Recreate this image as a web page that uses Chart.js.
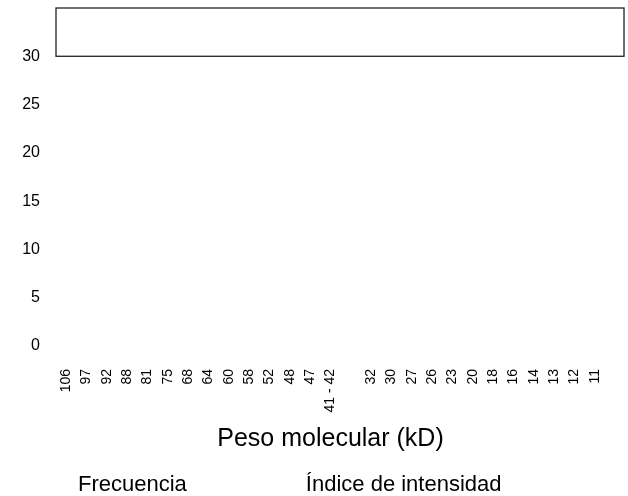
<!DOCTYPE html>
<html>
<head>
    <meta charset="utf-8">
    <title>Peso molecular</title>
    <style>
        html, body { margin: 0; background: #fff; }
        #wrap { width: 628px; height: 496px; }
    </style>
    <script src="https://cdn.jsdelivr.net/npm/chart.js"></script>
</head>
<body>
    <div id="wrap"><canvas id="myChart"></canvas></div>
    <script>
        // categorias del eje x (la vacia es el hueco entre 41-42 y 32)
        var pesos = ['106', '97', '92', '88', '81', '75', '68', '64', '60', '58', '52', '48', '47', '41 - 42', '',
                     '32', '30', '27', '26', '23', '20', '18', '16', '14', '13', '12', '11'];
        // no se ve ningun valor en la figura
        var frecuencia = [null, null, null, null, null, null, null, null, null, null, null, null, null, null, null,
                          null, null, null, null, null, null, null, null, null, null, null, null];
        var intensidad = [null, null, null, null, null, null, null, null, null, null, null, null, null, null, null,
                          null, null, null, null, null, null, null, null, null, null, null, null];
        var yTicks = [0, 5, 10, 15, 20, 25, 30];
        var yMax = 35;
        var recuadroDesde = 30;

        Chart.defaults.font.family = '"Liberation Sans", Arial, sans-serif';
        Chart.defaults.color = '#000';

        // recuadro de la parte alta del grafico
        var recuadro = {
            id: 'recuadro',
            afterDraw: function (chart) {
                var ctx = chart.ctx;
                var y = chart.scales.y;
                var top = y.getPixelForValue(yMax);
                var bottom = y.getPixelForValue(recuadroDesde);
                ctx.save();
                ctx.strokeStyle = '#222';
                ctx.lineWidth = 1.3;
                ctx.strokeRect(chart.chartArea.left, top, chart.width - 4 - chart.chartArea.left, bottom - top);
                ctx.restore();
            }
        };

        // mueve la leyenda a la izquierda como en el original
        var leyendaIzq = {
            id: 'leyendaIzq',
            afterLayout: function (chart) {
                chart.legend.left = -41;
            }
        };

        var ctx = document.getElementById('myChart').getContext('2d');
        var myChart = new Chart(ctx, {
            type: 'bar',
            data: {
                labels: pesos,
                datasets: [{
                    label: 'Frecuencia',
                    data: frecuencia,
                    backgroundColor: 'rgba(0, 0, 0, 0)',
                    borderColor: 'rgba(0, 0, 0, 0)',
                    borderWidth: 0
                },
                {
                    label: 'Índice de intensidad',
                    data: intensidad,
                    backgroundColor: 'rgba(0, 0, 0, 0)',
                    borderColor: 'rgba(0, 0, 0, 0)',
                    borderWidth: 0
                }]
            },
            options: {
                responsive: true,
                maintainAspectRatio: false,
                animation: false,
                layout: { padding: { top: 8, right: 23, bottom: -10 } },
                plugins: {
                    legend: {
                        position: 'bottom',
                        align: 'start',
                        labels: {
                            boxWidth: 106,
                            padding: 2,
                            font: { size: 22 }
                        }
                    },
                    tooltip: { enabled: false }
                },
                scales: {
                    x: {
                        grid: { display: false },
                        border: { display: false },
                        afterFit: function (scale) {
                            scale.height = 126;
                        },
                        ticks: {
                            autoSkip: false,
                            minRotation: 90,
                            maxRotation: 90,
                            padding: 15,
                            font: { size: 14 }
                        },
                        title: {
                            display: true,
                            text: 'Peso molecular (kD)',
                            font: { size: 25 },
                            padding: { top: 10, bottom: 18 }
                        }
                    },
                    y: {
                        min: 0,
                        max: yMax,
                        grid: { display: false },
                        border: { display: false },
                        afterBuildTicks: function (scale) {
                            scale.ticks = yTicks.map(function (v) { return { value: v }; });
                        },
                        afterFit: function (scale) {
                            scale.width = 56;
                            scale.paddingTop = 0;
                            scale.paddingBottom = 0;
                        },
                        ticks: {
                            padding: 8,
                            font: { size: 16 }
                        }
                    }
                }
            },
            plugins: [recuadro, leyendaIzq]
        });
    </script>
</body>
</html>
